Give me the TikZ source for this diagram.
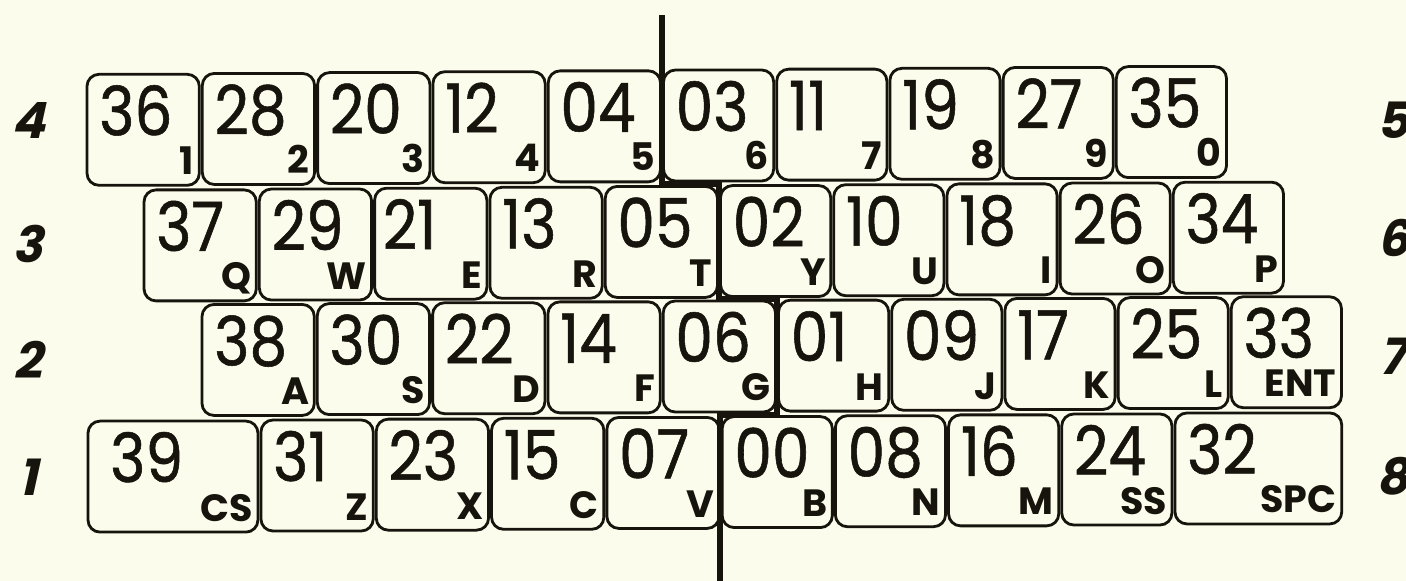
\documentclass[tikz,border=0pt]{standalone}
\usepackage{fontspec}
\usetikzlibrary{calc}
\newfontfamily\numfont{Poppins}[FakeStretch=0.88,FakeBold=0.8]
\newfontfamily\subfont{Poppins}
\newfontfamily\rowfont{Poppins}[BoldFeatures={FakeSlant=0.22}]
\definecolor{paper}{RGB}{252,252,236}
\definecolor{ink}{RGB}{22,20,12}
\tikzset{
 keybox/.style={draw=ink, fill=paper, line width=2.8pt, rounded corners=12pt, minimum height=111pt, inner sep=0pt, outer sep=0pt, anchor=north west},
 numtxt/.style={inner sep=0pt, anchor=base west, text=ink, font=\numfont\fontsize{68}{68}\selectfont},
 subtxt/.style={inner sep=0pt, anchor=base east, text=ink, font=\subfont\bfseries\fontsize{38}{38}\selectfont},
 rowlab/.style={inner sep=0pt, text=ink, font=\rowfont\bfseries\fontsize{50}{50}\selectfont},
 divider/.style={draw=ink, line width=6pt},
}
% name, left x, row top y, width, number, label, number inset
\newcommand\kb[7]{%
 \pgfmathsetmacro\kbY{#3-0.0075*(#2+#4/2-718)}%
 \node[keybox, minimum width=#4pt] (#1) at (#2,\kbY) {};
 \node[numtxt] (#1n) at ($(#1.north west)+(#7,61)$) {#5};
 \node[subtxt] (#1l) at ($(#1.south east)+(-5,-11)$) {#6};
}
\begin{document}
\begin{tikzpicture}[x=1pt,y=-1pt]
\useasboundingbox (0,0) rectangle (1406,581);
\fill[paper] (0,0) rectangle (1406,581);
% row 4
\kb{k36}{87}{70}{112.3}{36}{1}{12}
\kb{k28}{202.3}{70}{112.3}{28}{2}{12}
\kb{k20}{317.6}{70}{112.3}{20}{3}{12}
\kb{k12}{432.9}{70}{112.3}{12}{4}{12}
\kb{k04}{548.2}{70}{112.3}{04}{5}{12}
\kb{k03}{663.5}{70}{110.2}{03}{6}{12}
\kb{k11}{776.7}{70}{110.2}{11}{7}{12}
\kb{k19}{889.9}{70}{110.2}{19}{8}{12}
\kb{k27}{1003.1}{70}{110.2}{27}{9}{12}
\kb{k35}{1116.3}{70}{110.2}{35}{0}{12}
% row 3
\kb{k37}{144}{186}{112.3}{37}{Q}{12}
\kb{k29}{259.3}{186}{112.3}{29}{W}{12}
\kb{k21}{374.6}{186}{112.3}{21}{E}{8}
\kb{k13}{489.9}{186}{112.3}{13}{R}{12}
\kb{k05}{605.2}{186}{112.3}{05}{T}{12}
\kb{k02}{720.5}{186}{110.2}{02}{Y}{12}
\kb{k10}{833.7}{186}{110.2}{10}{U}{12}
\kb{k18}{946.9}{186}{110.2}{18}{I}{12}
\kb{k26}{1060.1}{186}{110.2}{26}{O}{12}
\kb{k34}{1173.3}{186}{110.2}{34}{P}{12}
% row 2
\kb{k38}{202}{301}{112.3}{38}{A}{12}
\kb{k30}{317.3}{301}{112.3}{30}{S}{12}
\kb{k22}{432.6}{301}{112.3}{22}{D}{12}
\kb{k14}{547.9}{301}{112.3}{14}{F}{12}
\kb{k06}{663.2}{301}{112.3}{06}{G}{12}
\kb{k01}{778.5}{301}{110.2}{01}{H}{12}
\kb{k09}{891.7}{301}{110.2}{09}{J}{12}
\kb{k17}{1004.9}{301}{110.2}{17}{K}{12}
\kb{k25}{1118.1}{301}{110.2}{25}{L}{12}
\kb{k33}{1231.3}{301}{110.2}{33}{ENT}{12}
% row 1
\kb{k39}{88}{417}{169.95}{39}{CS}{22}
\kb{k31}{260.95}{417}{112.3}{31}{Z}{12}
\kb{k23}{376.25}{417}{112.3}{23}{X}{12}
\kb{k15}{491.55}{417}{112.3}{15}{C}{12}
\kb{k07}{606.85}{417}{112.3}{07}{V}{12}
\kb{k00}{722.15}{417}{110.2}{00}{B}{12}
\kb{k08}{835.35}{417}{110.2}{08}{N}{12}
\kb{k16}{948.55}{417}{110.2}{16}{M}{12}
\kb{k24}{1061.75}{417}{110.2}{24}{SS}{12}
\kb{k32}{1174.95}{417}{166.8}{32}{SPC}{12}
% divider
\coordinate (d0) at (661.75,15);
\coordinate (d1) at (661.75,183.6);
\coordinate (d2) at (718.75,183.6);
\coordinate (d3) at (718.75,298.8);
\coordinate (d4) at (776.75,298.8);
\coordinate (d5) at (776.75,414.5);
\coordinate (d6) at (720.4,414.5);
\coordinate (d7) at (720.4,585);
\draw[divider] (d0) -- (d1) -- (d2) -- (d3) -- (d4) -- (d5) -- (d6) -- (d7);
% row labels
\node[rowlab] (r4) at (28,120) {4};
\node[rowlab] (r3) at (28,244) {3};
\node[rowlab] (r2) at (28,360) {2};
\node[rowlab] (r1) at (28,477) {1};
\node[rowlab] (r5) at (1393,120) {5};
\node[rowlab] (r6) at (1393,238) {6};
\node[rowlab] (r7) at (1393,356) {7};
\node[rowlab] (r8) at (1393,476) {8};
\end{tikzpicture}
\end{document}
